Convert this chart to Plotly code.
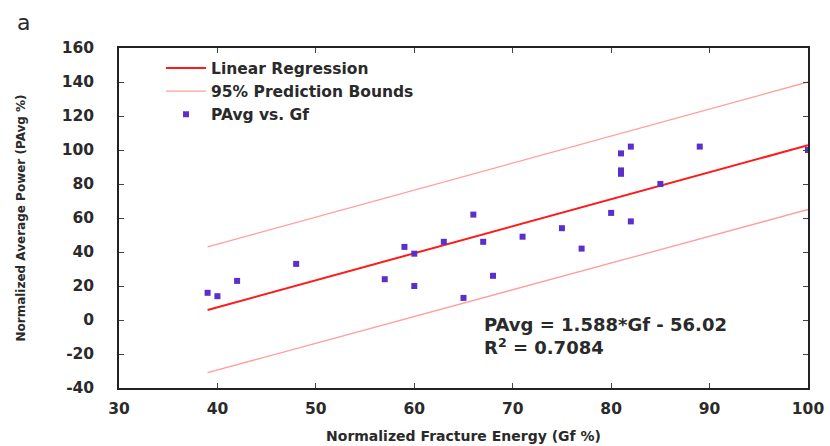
import plotly.graph_objects as go

# Data
gf = [39, 40, 42, 48, 57, 59, 60, 60, 63, 65, 66, 67, 68, 71, 75, 77, 80, 81, 81, 81, 82, 82, 85, 89, 100]
pavg = [16, 14, 23, 33, 24, 43, 39, 20, 46, 13, 62, 46, 26, 49, 54, 42, 63, 98, 88, 86, 102, 58, 80, 102, 100]

fit_x = [39, 100]
fit_y = [5.9, 102.8]
bound_x = [39, 100]
upper_y = [43, 140]
lower_y = [-31, 65]

x_ticks = [30, 40, 50, 60, 70, 80, 90, 100]
y_ticks = [-40, -20, 0, 20, 40, 60, 80, 100, 120, 140, 160]
y_tick_text = ["-40", "-20", "0", "20", "40", "60", "80", "100", "120", "140", "160"]

FONT = "DejaVu Sans"
TXT = "#2a2a2a"

fig = go.Figure()
fig.add_trace(go.Scatter(x=fit_x, y=fit_y, mode="lines", name="Linear Regression",
                         line=dict(color="#ff1a1a", width=2)))
fig.add_trace(go.Scatter(x=bound_x, y=upper_y, mode="lines", name="95% Prediction Bounds",
                         line=dict(color="rgba(255,60,60,0.5)", width=1.3)))
fig.add_trace(go.Scatter(x=bound_x, y=lower_y, mode="lines", showlegend=False,
                         line=dict(color="rgba(255,60,60,0.5)", width=1.3)))
fig.add_trace(go.Scatter(x=gf, y=pavg, mode="markers", name="PAvg vs. Gf",
                         marker=dict(symbol="square", size=6, color="#5b2fc9")))

fig.update_layout(
    width=830, height=446,
    margin=dict(l=119, r=22, t=48, b=58),
    paper_bgcolor="white", plot_bgcolor="white",
    font=dict(family=FONT, color=TXT),
    showlegend=True,
    legend=dict(x=0.061, y=0.99, xanchor="left", yanchor="top",
                bgcolor="rgba(0,0,0,0)",
                font=dict(size=15.5, family=FONT, color=TXT, weight="bold"),
                itemwidth=40, tracegroupgap=0),
)

fig.add_annotation(text="PAvg = 1.588*Gf - 56.02<br>R<sup>2</sup> = 0.7084",
                   x=(482 - 119) / 689, y=(388 - 312) / 340, xref="paper", yref="paper",
                   xanchor="left", yanchor="top", align="left", showarrow=False,
                   font=dict(size=18, family=FONT, color=TXT, weight="bold"))
fig.add_annotation(text="a", x=(23 - 119) / 689, y=(388 - 22) / 340, xref="paper", yref="paper",
                   xanchor="center", yanchor="middle", showarrow=False,
                   font=dict(size=22, family=FONT, color=TXT))

fig.update_xaxes(range=[30, 100], tickvals=x_ticks, ticks="inside", ticklen=5,
                 showline=True, linecolor="#222", linewidth=1.5, mirror="ticks",
                 showgrid=False, zeroline=False, ticklabelstandoff=6, automargin=False,
                 tickfont=dict(size=15.5, family=FONT, color=TXT, weight="bold"),
                 title=dict(text="Normalized Fracture Energy (Gf %)", standoff=14,
                            font=dict(size=14, family=FONT, color=TXT, weight="bold")))
fig.update_yaxes(range=[-40, 160], tickvals=y_ticks, ticktext=y_tick_text,
                 ticks="inside", ticklen=5, automargin=False,
                 showline=True, linecolor="#222", linewidth=1.5, mirror="ticks",
                 showgrid=False, zeroline=False, ticklabelstandoff=20,
                 tickfont=dict(size=15.5, family=FONT, color=TXT, weight="bold"),
                 title=dict(text="Normalized Average Power (PAvg %)", standoff=34,
                            font=dict(size=12, family=FONT, color=TXT, weight="bold")))

fig.write_html("out.html")
